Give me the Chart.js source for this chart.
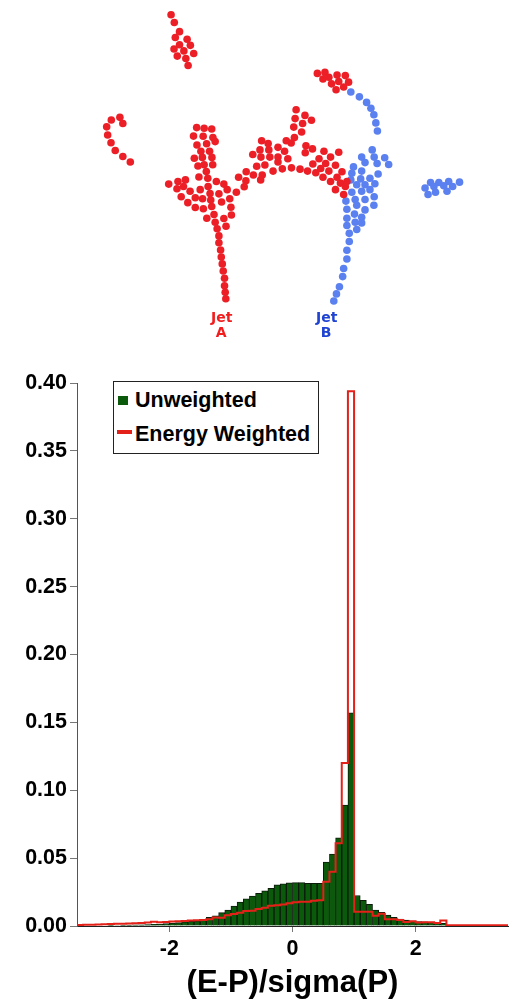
<!DOCTYPE html>
<html>
<head>
<meta charset="utf-8">
<script src="https://cdn.jsdelivr.net/npm/chart.js@4"></script>
<style>
  body { margin: 0; background: #fff; width: 516px; height: 1003px; position: relative; overflow: hidden; }
  #scatter { position: absolute; left: 0; top: 0; }
  #hist { position: absolute; left: 0; top: 350px; }
  .jet { position: absolute; font: bold 14px/14.5px "DejaVu Sans", sans-serif; }
  #legend { position: absolute; left: 113px; top: 381px; width: 204px; height: 71px; border: 1px solid #222;
            font: bold 21.5px/24px "Liberation Sans", Arial, sans-serif; color: #000; background: #fff; }
  #legend span { position: absolute; white-space: nowrap; }
  .sw { position: absolute; }
</style>
</head>
<body>
<canvas id="scatter" width="516" height="350"></canvas>
<canvas id="hist" width="516" height="653"></canvas>

<div class="jet" style="left:211px;top:310px;color:#f21d1d">Jet<br>&nbsp;A</div>
<div class="jet" style="left:316px;top:310px;color:#1f43d2">Jet<br>&nbsp;B</div>

<div id="legend">
  <div class="sw" style="left:4px;top:14px;width:10px;height:9px;background:#0b5a0b"></div>
  <span style="left:21px;top:6px">Unweighted</span>
  <div class="sw" style="left:3px;top:48px;width:15px;height:4px;background:#e32119"></div>
  <span style="left:21px;top:40px">Energy Weighted</span>
</div>

<script>
// ---- top: jet constituents (embedding coordinates) ----
const jetA = [
  [169.7,11],[173,19],[178.3,28.3],[174,34.3],[186,36],[178.3,41.7],[189.3,42.3],[172.7,46],[182.7,48],[192.7,50.7],[176,53.3],[184.7,55.7],[187,63],
  [117.7,116],[109,118.7],[120.7,122.3],[104.3,125.7],[105.3,134],[108.7,142],[113,150],[120.7,156],[128.3,161.7],
  [195.7,126.5],[203.3,127.2],[211,128],[192.5,135.2],[202.3,135.4],[212.2,136.7],[214.5,140.8],[196,144.3],[205.8,143],[200,150.7],[208.8,150.7],
  [193.3,157.8],[201.5,157],[211.2,157],[197,165.8],[203.3,164.5],[212,164.5],[205.5,171.5],[198,177],[207,178.3],
  [167.3,184.3],[176.7,181.7],[184.3,180],[175.7,189],[182.3,186.7],[189,191.7],[199.3,190],[207.3,186.7],[215.7,181.7],[223.3,184.3],
  [180,197.3],[194.3,198.3],[201.7,199.3],[209.3,194],[218.3,194.3],[226.7,190],[236,192.7],
  [186.7,203.3],[210,200.7],[229.3,199.3],[194.3,208.3],[202.5,209.5],[211,207.3],[221,202.7],[230.5,208],
  [213.3,215.5],[206,219.3],[214.5,223.3],[223.3,219.5],[231,216],[225.5,227.5],[216.5,230],
  [218.3,237.3],[218.3,244.3],[220,251.7],[220.7,259],[221.7,266],[222.7,273.3],[224,280.7],[224,288.3],[224.7,295],[225.3,301.7],
  [238.3,177.3],[246,171.7],[253.3,175],[245.7,181],[260.7,180],[262.3,175],[256.7,166],[265,164.7],[252.7,154],[260,149.3],[268.3,142.7],
  [261.7,140],[261,156.7],[270,156.7],[269,149.3],[278.3,146.7],[286.7,140],[291.7,142.3],[285,150.7],[278.3,156.7],[288.3,158.3],
  [278.3,161.7],[273.3,171],[282.7,168.7],[292,167.7],[244,187],
  [296.7,108.3],[295.7,117.3],[305.7,114],[303.3,122.3],[312.3,119],[294.3,126],[302.3,131],[295,136.7],
  [300.7,169],[308.3,171],[313.7,163.7],[306.7,145],[313.3,148.3],[306,152.3],[320,158.3],[325,150.7],[331.7,156.7],[340,151.7],
  [321.7,168.3],[330,171],[336.7,165],[343.3,171.7],[324,177.3],[331.7,181.7],[338.3,177.3],[336.7,190],[341.7,183.3],[346.7,186.7],
  [345,195],[348.3,181.7],[316.7,172.7],[326.7,163.3],
  [318.3,71],[326,70],[330,75],[324,76.7],[338.3,72.7],[346.7,73.3],[332.7,81.7],[340,79.3],[350,80],[345,85],[337.3,87.7]
];
const jetB = [
  [352.3,90],[361,95],[368.3,100.7],[372.7,106.7],[375.7,113.3],[377.7,121.7],[379.3,130],
  [374,149.3],[363.3,156.7],[376,156.7],[386.7,157.3],[366.7,162.3],[379,163.3],[390.7,164.3],[355,166.7],[363.3,171],[380,174],
  [353.3,173.3],[352.3,180],[362.3,179],[371.7,178.3],[358.3,185],[366.7,185],[376.7,184],[353.3,192.7],[363.3,191.7],[371.7,190],
  [347.3,201.7],[356.7,200],[366.7,200],[376,197.3],[348.3,210],[358.3,206],[366.7,210.7],[375.7,206],[356,215],[363.3,218.3],
  [348.3,219.3],[356.7,223.3],[363.3,224],[348.3,226.7],[358.3,230.7],[350.7,234.7],
  [350.7,243],[348.3,252],[348.3,261],[345,270.7],[344,279],[340.7,289.3],[337.7,296.7],[335,304],
  [427.7,188.3],[433.3,182.7],[441.7,182.7],[451.7,181.7],[462.7,182.3],[430.7,195],[438.3,192.7],[446.7,186],[450,191.7],[455.7,186.7],[436.7,186.7]
];

// ---- bottom: histogram of (E-P)/sigma(P), bins of 0.1 from -3.5 ----
const binStart = -3.5;
const binWidth = 0.1;
const unweighted = [
  0,0,0,0,0, 0.0003,0.0004,0.0005,0.0006,0.0008,
  0.0009,0.0011,0.0013,0.0015,0.0018, 0.0021,0.0025,0.003,0.0034,0.0039,
  0.0044,0.0064,0.0074,0.0098,0.0118, 0.0147,0.0176,0.020,0.022,0.024,
  0.026,0.0277,0.0303,0.031,0.0318, 0.032,0.032,0.0315,0.0314,0.0314,
  0.047,0.053,0.065,0.089,0.157, 0.0225,0.019,0.016,0.0118,0.010,
  0.0081,0.0064,0.0051,0.0044,0.0037, 0.0032,0.003,0.0027,0.0024,0.002,
  0,0,0,0,0, 0,0,0,0,0
];
const energyWeighted = [
  0.0008,0.0009,0.001,0.0011,0.0012, 0.0014,0.0016,0.0017,0.0019,0.0021,
  0.0023,0.0025,0.0031,0.0027,0.003, 0.0033,0.0035,0.0037,0.004,0.0042,
  0.0044,0.0049,0.0063,0.006,0.008, 0.0088,0.0098,0.011,0.0113,0.0125,
  0.0135,0.015,0.0152,0.0159,0.0167, 0.0175,0.0178,0.0178,0.0186,0.019,
  0.0326,0.040,0.061,0.120,0.394, 0.0105,0.0105,0.0105,0.0075,0.009,
  0.005,0.005,0.0045,0.003,0.0035, 0.0025,0.0028,0.0028,0.0022,0.004,
  0.0005,0.0005,0.0005,0.0005,0.0005, 0.0005,0.0005,0.0005,0.0005,0.0005
];
const yTicks = [0, 0.05, 0.10, 0.15, 0.20, 0.25, 0.30, 0.35, 0.40];
const xTicks = [-2, 0, 2];

const font = "'Liberation Sans', Arial, sans-serif";

new Chart(document.getElementById('scatter'), {
  type: 'scatter',
  data: {
    datasets: [
      { data: jetA.map(p => ({x: p[0], y: p[1]})), backgroundColor: '#ec1f27', borderWidth: 0, pointRadius: 3.8 },
      { data: jetB.map(p => ({x: p[0], y: p[1]})), backgroundColor: '#5b80ef', borderWidth: 0, pointRadius: 3.8 }
    ]
  },
  options: {
    responsive: false, animation: false, events: [],
    plugins: { legend: { display: false }, tooltip: { enabled: false } },
    scales: {
      x: { display: false, min: 0, max: 516 },
      y: { display: false, min: 0, max: 350, reverse: true }
    }
  }
});

const centers = unweighted.map((v, i) => binStart + binWidth * (i + 0.5));
const steps = energyWeighted.map((v, i) => ({x: binStart + binWidth * i, y: v}));
steps.push({x: binStart + binWidth * energyWeighted.length, y: energyWeighted[energyWeighted.length - 1]});

new Chart(document.getElementById('hist'), {
  type: 'bar',
  data: {
    datasets: [
      { type: 'line', data: steps, stepped: 'before', borderColor: '#e32119', borderWidth: 2,
        pointRadius: 0, fill: false, order: 1 },
      { type: 'bar', data: centers.map((c, i) => ({x: c, y: unweighted[i] || null})),
        backgroundColor: '#0b5a0b', borderColor: '#0c1a0c', borderWidth: 1,
        barPercentage: 1, categoryPercentage: 1, order: 2 }
    ]
  },
  options: {
    responsive: false, animation: false, events: [],
    layout: { padding: { top: 33, right: 8, left: 0, bottom: 0 } },
    plugins: { legend: { display: false }, tooltip: { enabled: false } },
    scales: {
      x: {
        type: 'linear', min: -3.5, max: 3.5, offset: false,
        afterBuildTicks: s => { s.ticks = xTicks.map(v => ({value: v})); },
        ticks: { color: '#000', font: { family: font, weight: 'bold', size: 21.5 }, padding: 4, maxRotation: 0,
                 callback: v => String(v) },
        grid: { drawOnChartArea: false, drawTicks: true, tickLength: 6, tickColor: '#777', offset: false },
        border: { color: '#222', width: 1 },
        title: { display: true, text: '(E-P)/sigma(P)', color: '#000',
                 font: { family: font, weight: 'bold', size: 31, lineHeight: 1.2 }, padding: { top: 0, bottom: 1 } },
        afterFit: s => { s.height = 77; }
      },
      y: {
        min: 0, max: 0.4,
        afterBuildTicks: s => { s.ticks = yTicks.map(v => ({value: v})); },
        ticks: { color: '#000', font: { family: font, weight: 'bold', size: 21.5 }, padding: 3,
                 callback: v => v.toFixed(2) },
        grid: { drawOnChartArea: false, drawTicks: true, tickLength: 7, tickColor: '#777' },
        border: { color: '#555', width: 1 },
        afterFit: s => { s.width = 77; }
      }
    }
  }
});
</script>
</body>
</html>
